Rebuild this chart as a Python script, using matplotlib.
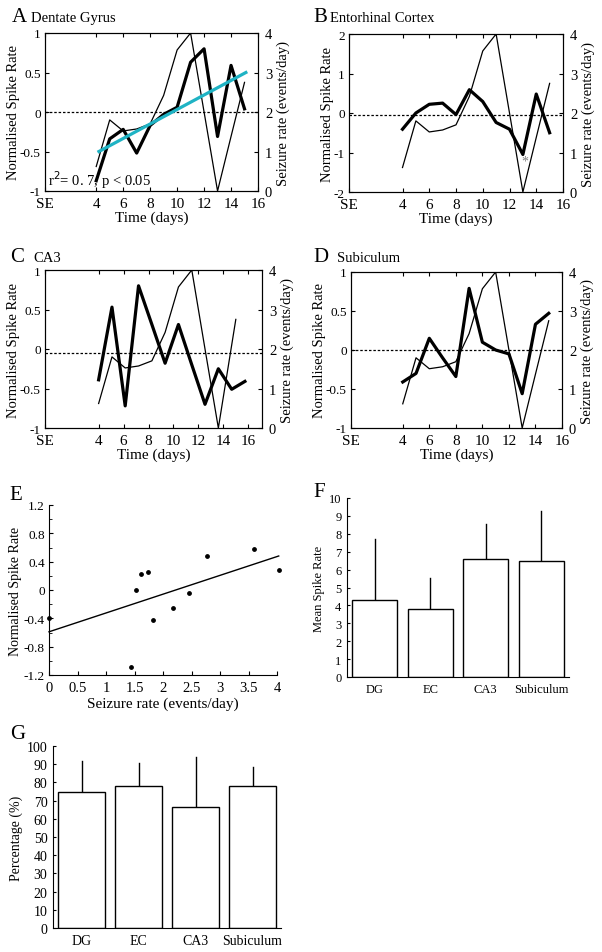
import numpy as np
import matplotlib
matplotlib.use("Agg")
import matplotlib.pyplot as plt

plt.rcParams['font.family'] = ['Liberation Serif', 'DejaVu Serif']
plt.rcParams['xtick.direction'] = 'in'
plt.rcParams['ytick.direction'] = 'in'
plt.rcParams['axes.linewidth'] = 0.8

# ---- data ----
days = [4, 5, 6, 7, 8, 9, 10, 11, 12, 13, 14, 15]
seizure = [0.62, 1.8, 1.52, 1.57, 1.7, 2.42, 3.57, 4.0, 2.0, 0.0, 1.38, 2.75]

dg_rate = [-0.87, -0.34, -0.22, -0.52, -0.17, -0.03, 0.06, 0.63, 0.80, -0.31, 0.59, 0.04]
ec_rate = [-0.41, 0.0, 0.22, 0.25, -0.04, 0.59, 0.29, -0.24, -0.41, -1.05, 0.48, -0.5]
ca3_rate = [-0.39, 0.53, -0.72, 0.80, 0.31, -0.18, 0.31, -0.2, -0.70, -0.25, -0.51, -0.41]
sub_rate = [-0.41, -0.30, 0.15, -0.1, -0.34, 0.79, 0.10, 0.0, -0.05, -0.56, 0.33, 0.47]

# CA3 panel is plotted on a slightly stretched time axis
days_ca3 = [4.0, 5.07, 6.13, 7.2, 8.27, 9.33, 10.4, 11.47, 12.53, 13.6, 14.67, 15.73]
days_ca3_seiz = [4.0, 5.07, 6.13, 7.2, 8.27, 9.33, 10.4, 11.47, 12.53, 13.6, 15.0]
seizure_ca3 = [0.62, 1.8, 1.52, 1.57, 1.7, 2.42, 3.57, 4.0, 2.0, 0.0, 2.75]

dg_fit_x = [4.2, 15.1]
dg_fit_y = [-0.5, 0.5]

scatter_x = [0.0, 1.43, 1.53, 1.61, 1.74, 1.83, 2.17, 2.46, 2.78, 3.6, 4.03]
scatter_y = [-0.4, -1.08, 0.0, 0.22, 0.25, -0.42, -0.26, -0.04, 0.48, 0.58, 0.28]
reg_x = [0.0, 4.03]
reg_y = [-0.59, 0.48]

regions = ['DG', 'EC', 'CA3', 'Subiculum']
mean_rate = [4.3, 3.8, 6.6, 6.5]
mean_rate_err = [3.4, 1.75, 1.95, 2.8]
percentage = [74.8, 77.8, 66.4, 77.8]
percentage_err = [17.0, 12.7, 27.6, 10.7]

time_ticks = [4, 6, 8, 10, 12, 14, 16]

W, H = 602, 953
fig = plt.figure(figsize=(W / 100, H / 100), dpi=100)


def px_axes(l, t, r, b):
    return fig.add_axes([l / W, 1 - b / H, (r - l) / W, (b - t) / H])


def label(x, y, letter, name=None, name_x=None):
    # panel letter + region name, positions in pixels (baseline)
    fig.text(x / W, 1 - y / H, letter, fontsize=15, va='baseline')
    if name:
        fig.text(name_x / W, 1 - y / H, name, fontsize=10.5, va='baseline')


def time_panel(box, xs, rate, seiz_x, seiz, ylim, yticks, yticklabels, xlim, zero_y):
    ax = px_axes(*box)
    ax2 = ax.twinx()
    ax2.plot(seiz_x, seiz, color='black', lw=0.9)
    ax2.set_ylim(0, 4)
    ax2.set_yticks([0, 1, 2, 3, 4])
    ax2.set_ylabel('Seizure rate (events/day)', fontsize=10.5, labelpad=3)
    ax2.tick_params(labelsize=10.5, pad=5, length=3)
    ax.set_zorder(ax2.get_zorder() + 1)
    ax.patch.set_visible(False)
    ax.plot(xs, rate, color='black', lw=2.3)
    ax.axhline(zero_y, color='black', lw=0.9, ls=(0, (2, 1.5)))
    ax.set_ylim(*ylim)
    ax.set_yticks(yticks)
    ax.set_yticklabels(yticklabels)
    ax.set_xlim(*xlim)
    ax.set_xticks([xlim[0]] + time_ticks)
    ax.set_xticklabels(['SE'] + [str(t) for t in time_ticks])
    ax.tick_params(axis='x', labelsize=11, length=3, top=True, pad=4)
    ax.tick_params(axis='y', labelsize=9.5, length=3, pad=3)
    ax.set_ylabel('Normalised Spike Rate', fontsize=10.5, labelpad=0)
    ax.set_xlabel('Time (days)', fontsize=11, labelpad=1)
    return ax, ax2


# A
axA, _ = time_panel((45, 34, 258, 192), days, dg_rate, days, seizure,
                    (-1, 1), [-1, -0.5, 0, 0.5, 1], ['-1', '-0.5', '0', '0.5', '1'],
                    (0.2, 16), 0)
axA.plot(dg_fit_x, dg_fit_y, color='#1fb3c4', lw=2.3)
axA.text(0.45, -0.93, r'r$^2$= 0. 7, p < 0.05', fontsize=10.5, va='baseline')
label(12, 22, 'A', 'Dentate Gyrus', 31)

# B
axB, _ = time_panel((349, 35, 563, 193), days, ec_rate, days, seizure,
                    (-2, 2), [-2, -1, 0, 1, 2], ['-2', '-1', '0', '1', '2'],
                    (0, 16), -0.05)
axB.text(13.18, -1.22, '*', color='gray', fontsize=10, ha='center', va='center')
label(313, 22, 'B', 'Entorhinal Cortex', 330)

# C
time_panel((45, 271, 262, 429), days_ca3, ca3_rate, days_ca3_seiz, seizure_ca3,
           (-1, 1), [-1, -0.5, 0, 0.5, 1], ['-1', '-0.5', '0', '0.5', '1'],
           (-0.3, 17.1), -0.05)
label(10, 262, 'C', 'CA3', 33)

# D
time_panel((351, 273, 562, 429), days, sub_rate, days, seizure,
           (-1, 1), [-1, -0.5, 0, 0.5, 1], ['-1', '-0.5', '0', '0.5', '1'],
           (0.1, 16), 0)
label(313, 262, 'D', 'Subiculum', 337)

# E
axE = px_axes(49, 506, 277, 676)
axE.scatter(scatter_x, scatter_y, s=6, color='black', clip_on=False, zorder=3)
axE.plot(reg_x, reg_y, color='black', lw=1.0, clip_on=False)
axE.set_xlim(0, 4)
axE.set_ylim(-1.2, 1.2)
axE.set_xticks(np.arange(0, 4.01, 0.5))
axE.set_xticklabels(['0', '0.5', '1', '1.5', '2', '2.5', '3', '3.5', '4'])
axE.set_yticks([-1.2, -0.8, -0.4, 0, 0.4, 0.8, 1.2])
axE.set_yticklabels(['-1.2', '-0.8', '-0.4', '0', '0.4', '0.8', '1.2'])
axE.set_yticks(np.arange(-1.2, 1.21, 0.2), minor=True)
axE.tick_params(which='minor', length=2)
axE.tick_params(axis='x', labelsize=10.5, length=3, pad=4)
axE.tick_params(axis='y', labelsize=9.5, length=3, pad=3)
axE.spines['top'].set_visible(False)
axE.spines['right'].set_visible(False)
axE.set_xlabel('Seizure rate (events/day)', fontsize=11, labelpad=2)
axE.set_ylabel('Normalised Spike Rate', fontsize=10, labelpad=1)
label(9, 500, 'E')


def bar_panel(box, values, errs, ylim, yticks, ylabel, fs):
    ax = px_axes(*box)
    pos = np.arange(1, len(regions) + 1)
    ax.bar(pos, values, width=0.81, color='white', edgecolor='black', lw=1.0, zorder=2)
    for x, v, e in zip(pos, values, errs):
        ax.plot([x, x], [v, v + e], color='black', lw=1.0, zorder=1)
    ax.set_xlim(0.5, 4.5)
    ax.set_ylim(*ylim)
    ax.set_yticks(yticks)
    ax.set_xticks(pos)
    ax.set_xticklabels(regions)
    ax.spines['top'].set_visible(False)
    ax.spines['right'].set_visible(False)
    ax.tick_params(labelsize=fs, length=2.5)
    ax.tick_params(axis='y', pad=4)
    ax.tick_params(axis='x', pad=4)
    ax.set_ylabel(ylabel, fontsize=fs, labelpad=3)
    return ax


bar_panel((347, 499, 569, 678), mean_rate, mean_rate_err, (0, 10), range(0, 11),
          'Mean Spike Rate', 9)
label(313, 497, 'F')
bar_panel((53, 747, 281, 929), percentage, percentage_err, (0, 100), range(0, 101, 10),
          'Percentage (%)', 10)
label(10, 739, 'G')

fig.savefig('out.png', dpi=100)
